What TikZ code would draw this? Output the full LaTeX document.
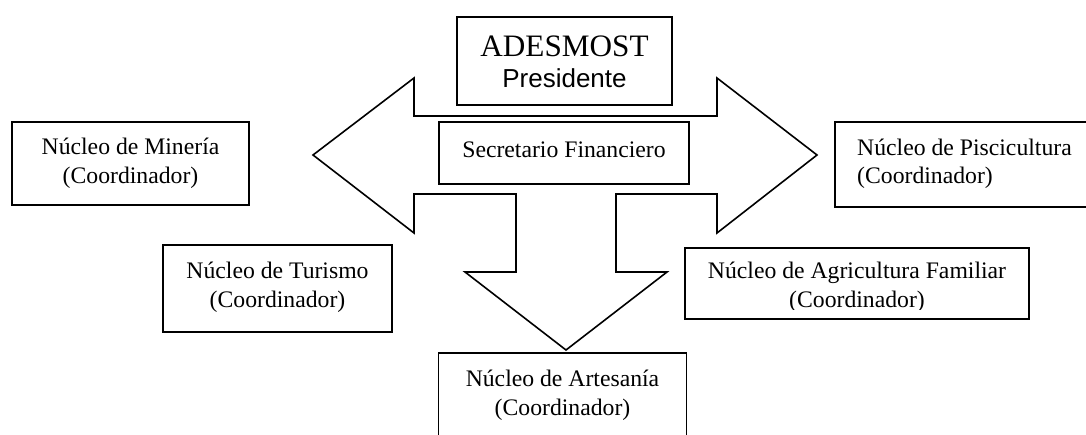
\documentclass[tikz,border=0pt]{standalone}
\usepackage{fontspec}
\setmainfont{Liberation Serif}
\setsansfont{Liberation Sans}
\begin{document}
\begin{tikzpicture}[x=1pt,y=-1pt,
  box/.style={draw, line width=1.6pt, fill=white, inner sep=0pt},
  lbl/.style={anchor=base, inner sep=0pt, font=\fontsize{23.7}{28}\selectfont},
  shape3/.style={draw, line width=1.6pt, fill=white, line join=miter}]
\useasboundingbox (0,0) rectangle (1086,434);
\clip (0,0) rectangle (1086,434);
% three-way arrow
\coordinate (lt) at (313,155);
\coordinate (lh1) at (414,78);
\coordinate (ls1) at (414,116);
\coordinate (rs1) at (717,116);
\coordinate (rh1) at (717,78);
\coordinate (rt) at (817,155);
\coordinate (rh2) at (717,233);
\coordinate (rs2) at (717,194);
\coordinate (ds1) at (616,194);
\coordinate (ds2) at (616,272);
\coordinate (dh1) at (667,272);
\coordinate (dt) at (566,350);
\coordinate (dh2) at (465,272);
\coordinate (ds3) at (516,272);
\coordinate (ds4) at (516,194);
\coordinate (ls2) at (414,194);
\coordinate (lh2) at (414,233);
\draw[shape3] (lt) -- (lh1) -- (ls1) -- (rs1) -- (rh1) -- (rt) -- (rh2) -- (rs2)
  -- (ds1) -- (ds2) -- (dh1) -- (dt) -- (dh2) -- (ds3) -- (ds4) -- (ls2) -- (lh2) -- cycle;
% boxes
\node[box, minimum width=215, minimum height=88] (ades) at (564.5,61) {};
\node[lbl, font=\fontsize{31.2}{34}\selectfont] (adesT) at (564.5,56) {ADESMOST};
\node[lbl, font=\sffamily\fontsize{26}{30}\selectfont] (presT) at (564.5,87) {Presidente};

\node[box, minimum width=250, minimum height=62] (sec) at (564,153) {};
\node[lbl] (secT) at (564,157) {Secretario Financiero};

\node[box, minimum width=237, minimum height=83] (min) at (130.5,163.5) {};
\node[lbl] (min1) at (130.5,154) {Núcleo de Minería};
\node[lbl] (min2) at (130.5,183) {(Coordinador)};

\node[box, minimum width=255, minimum height=85] (pis) at (962.5,164.5) {};
\node[lbl, anchor=base west] (pis1) at (857,155) {Núcleo de Piscicultura};
\node[lbl, anchor=base west] (pis2) at (857,183) {(Coordinador)};

\node[box, minimum width=229, minimum height=87] (tur) at (277.5,288.5) {};
\node[lbl] (tur1) at (277.5,278) {Núcleo de Turismo};
\node[lbl] (tur2) at (277.5,307) {(Coordinador)};

\node[box, minimum width=344, minimum height=71] (agr) at (857,283.5) {};
\begin{scope}
\clip (686,249) rectangle (1028,309);
\node[lbl] (agr1) at (857,278) {Núcleo de Agricultura Familiar};
\node[lbl] (agr2) at (857,307) {(Coordinador)};
\end{scope}

\node[box, minimum width=248, minimum height=90] (art) at (562.5,398) {};
\node[lbl] (art1) at (562.5,386) {Núcleo de Artesanía};
\node[lbl] (art2) at (562.5,415) {(Coordinador)};
\end{tikzpicture}
\end{document}
